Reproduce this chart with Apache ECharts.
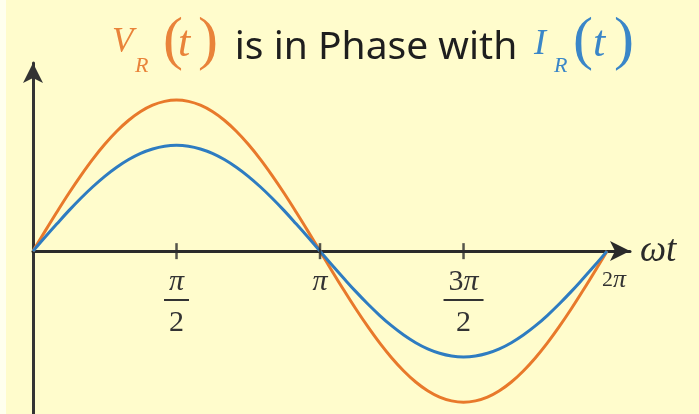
<!DOCTYPE html>
<html>
<head>
<meta charset="utf-8">
<script src="https://cdn.jsdelivr.net/npm/echarts@6/dist/echarts.min.js"></script>
<style>
  html, body { margin: 0; padding: 0; background: #FFFCCC; }
  #chart { width: 699px; height: 414px; }
</style>
</head>
<body>
<div id="chart"></div>
<script>
// Phase angle ωt in degrees, sampled every 7.5°
const phaseDeg = [0, 7.5, 15, 22.5, 30, 37.5, 45, 52.5, 60, 67.5, 75, 82.5,
                  90, 97.5, 105, 112.5, 120, 127.5, 135, 142.5, 150, 157.5, 165, 172.5,
                  180, 187.5, 195, 202.5, 210, 217.5, 225, 232.5, 240, 247.5, 255, 262.5,
                  270, 277.5, 285, 292.5, 300, 307.5, 315, 322.5, 330, 337.5, 345, 352.5, 360];
// Resistor voltage V_R(t)
const voltage = [0, 0.131, 0.259, 0.383, 0.500, 0.609, 0.707, 0.793, 0.866, 0.924, 0.966, 0.991,
                 1.000, 0.991, 0.966, 0.924, 0.866, 0.793, 0.707, 0.609, 0.500, 0.383, 0.259, 0.131,
                 0, -0.131, -0.259, -0.383, -0.500, -0.609, -0.707, -0.793, -0.866, -0.924, -0.966, -0.991,
                 -1.000, -0.991, -0.966, -0.924, -0.866, -0.793, -0.707, -0.609, -0.500, -0.383, -0.259, -0.131, 0];
// Resistor current I_R(t)
const current = [0, 0.092, 0.181, 0.268, 0.350, 0.426, 0.495, 0.555, 0.606, 0.647, 0.676, 0.694,
                 0.700, 0.694, 0.676, 0.647, 0.606, 0.555, 0.495, 0.426, 0.350, 0.268, 0.181, 0.092,
                 0, -0.092, -0.181, -0.268, -0.350, -0.426, -0.495, -0.555, -0.606, -0.647, -0.676, -0.694,
                 -0.700, -0.694, -0.676, -0.647, -0.606, -0.555, -0.495, -0.426, -0.350, -0.268, -0.181, -0.092, 0];
// Tick marks on the ωt axis (degrees) and their labels
const tickValues = [90, 180, 270, 360];
const tickNumerators = ['π', 'π', '3π', '2π'];
const tickDenominators = ['2', '', '2', ''];

const ORANGE = '#E8792B';
const BLUE = '#2E7CC1';
const INK = '#2a2a2a';
const SERIF = '"Liberation Serif", "DejaVu Serif", serif';

// Plot geometry: the ωt axis sits 183px above the bottom edge of the grid
const GRID_BOTTOM = -20;
const AXIS_RAISE = 183;

const chart = echarts.init(document.getElementById('chart'), null, { renderer: 'canvas' });

function tickLabel(value) {
  const i = tickValues.findIndex(v => Math.abs(v - value) < 1e-6);
  if (i < 0) return '';
  const num = tickNumerators[i];
  const den = tickDenominators[i];
  if (num.length > 1 && !den) return '{sdig|' + num[0] + '}{spi|π}';
  const numRich = num.length > 1 ? '{dig|' + num[0] + '}{pi|π}' : '{pi|π}';
  if (!den) return numRich;
  return numRich + '\n{' + (num.length > 1 ? 'barw' : 'bar') + '| }\n{den|' + den + '}';
}

const option = {
  backgroundColor: '#FFFCCC',
  animation: false,
  grid: { left: 33, right: 69, top: 63, bottom: GRID_BOTTOM, containLabel: false, outerBoundsMode: 'none' },
  xAxis: {
    type: 'value',
    min: 0, max: 374.4, interval: 90,
    position: 'bottom',
    offset: -AXIS_RAISE,
    name: 'ωt',
    nameLocation: 'end',
    nameGap: 10,
    nameTextStyle: { fontFamily: SERIF, fontStyle: 'italic', fontSize: 37, color: INK, padding: [18, 0, 0, 0] },
    axisLine: { show: true, onZero: false, symbol: ['none', 'arrow'], symbolSize: [15, 20],
                lineStyle: { color: INK, width: 3 } },
    axisTick: { show: false },
    splitLine: { show: false },
    axisLabel: {
      show: true, interval: 0, margin: 20, showMaxLabel: false, showMinLabel: false,
      formatter: tickLabel,
      rich: {
        pi: { fontFamily: SERIF, fontStyle: 'italic', fontSize: 30, color: '#333', lineHeight: 22 },
        dig: { fontFamily: SERIF, fontSize: 30, color: '#333', lineHeight: 22 },
        bar: { width: 25, height: 2, fontSize: 2, lineHeight: 14, backgroundColor: '#333' },
        barw: { width: 40, height: 2, fontSize: 2, lineHeight: 14, backgroundColor: '#333' },
        den: { fontFamily: SERIF, fontSize: 30, color: '#333', lineHeight: 32 },
        sdig: { fontFamily: SERIF, fontSize: 22, color: '#333', lineHeight: 18, padding: [0, 0, 0, 14] },
        spi: { fontFamily: SERIF, fontStyle: 'italic', fontSize: 26, color: '#333', lineHeight: 18 }
      }
    }
  },
  yAxis: {
    type: 'value',
    min: -1.21, max: 1.245,
    axisLine: { show: true, onZero: false, symbol: ['none', 'arrow'], symbolSize: [15, 20],
                lineStyle: { color: '#333', width: 3 } },
    axisTick: { show: false },
    axisLabel: { show: false },
    splitLine: { show: false }
  },
  series: [
    {
      name: 'V_R(t)', type: 'line', smooth: 0.4, showSymbol: false,
      data: phaseDeg.map((x, i) => [x, voltage[i]]),
      lineStyle: { color: ORANGE, width: 3 }, z: 3
    },
    {
      name: 'I_R(t)', type: 'line', smooth: 0.4, showSymbol: false,
      data: phaseDeg.map((x, i) => [x, current[i]]),
      lineStyle: { color: BLUE, width: 3 }, z: 4
    },
    {
      name: 'ticks', type: 'scatter', symbol: 'rect', symbolSize: [2.5, 16],
      data: tickValues.slice(0, 3).map(v => [v, 0]),
      itemStyle: { color: INK }, z: 5, silent: true
    }
  ],
  graphic: [
    { type: 'rect', left: 0, top: 0, shape: { width: 6, height: 414 }, style: { fill: '#FFFFEE' }, z: -1 },
    // Title: V_R(t) is in Phase with I_R(t)
    { type: 'text', x: 112, y: 43, style: { text: 'V', font: 'italic 35px ' + SERIF, fill: '#E9833A', verticalAlign: 'middle' } },
    { type: 'text', x: 135, y: 66, style: { text: 'R', font: 'italic 22px ' + SERIF, fill: '#E9833A', verticalAlign: 'middle' } },
    { type: 'text', x: 163, y: 42, style: { text: '(', font: '60px ' + SERIF, fill: '#E9833A', verticalAlign: 'middle' } },
    { type: 'text', x: 178, y: 44, style: { text: 't', font: 'italic 44px ' + SERIF, fill: '#E9833A', verticalAlign: 'middle' } },
    { type: 'text', x: 198, y: 42, style: { text: ')', font: '60px ' + SERIF, fill: '#E9833A', verticalAlign: 'middle' } },
    { type: 'text', x: 376, y: 48, style: { text: 'is in Phase with', font: '39px "Noto Sans", sans-serif', fill: '#1e1e1e', align: 'center', verticalAlign: 'middle' } },
    { type: 'text', x: 534, y: 45, style: { text: 'I', font: 'italic 36px ' + SERIF, fill: '#3A86C8', verticalAlign: 'middle' } },
    { type: 'text', x: 554, y: 66, style: { text: 'R', font: 'italic 22px ' + SERIF, fill: '#3A86C8', verticalAlign: 'middle' } },
    { type: 'text', x: 573, y: 42, style: { text: '(', font: '60px ' + SERIF, fill: '#3A86C8', verticalAlign: 'middle' } },
    { type: 'text', x: 593, y: 44, style: { text: 't', font: 'italic 44px ' + SERIF, fill: '#3A86C8', verticalAlign: 'middle' } },
    { type: 'text', x: 614, y: 42, style: { text: ')', font: '60px ' + SERIF, fill: '#3A86C8', verticalAlign: 'middle' } }
  ]
};

chart.setOption(option);
</script>
</body>
</html>
